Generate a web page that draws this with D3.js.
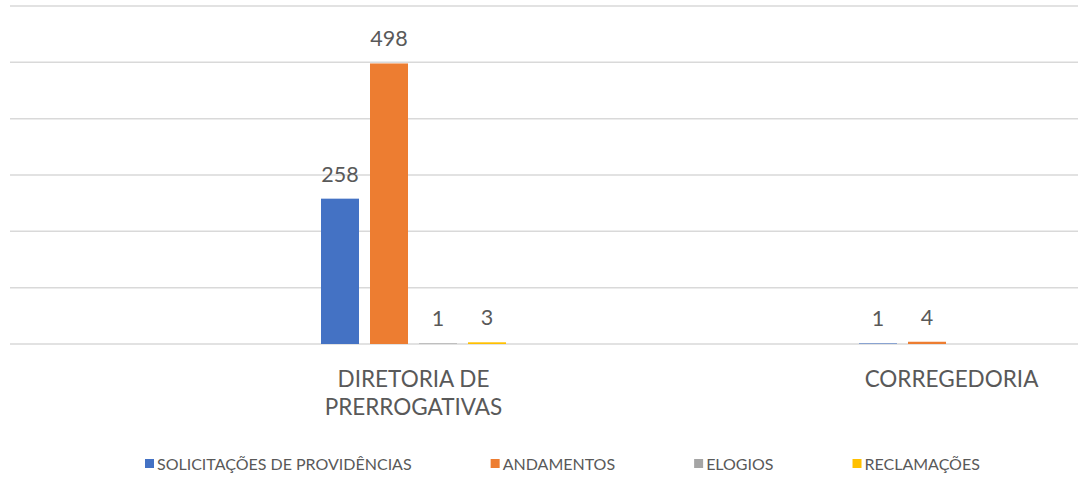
<!DOCTYPE html>
<html>
<head>
<meta charset="utf-8">
<script src="https://cdn.jsdelivr.net/npm/d3@7"></script>
<style>
  body { margin: 0; background: #fff; }
  svg { font-family: Lato, "Open Sans", sans-serif; }
  .grid line { stroke: #d9d9d9; stroke-width: 1.5; }
  .value { fill: #595959; font-size: 21.5px; text-anchor: middle; }
  .cat { fill: #595959; font-size: 22.5px; text-anchor: middle; }
  .legend text { fill: #595959; font-size: 16px; }
</style>
</head>
<body>
<div id="chart"></div>
<script>
// data
var categories = ["DIRETORIA DE PRERROGATIVAS", "CORREGEDORIA"]
var categoryLines = [["DIRETORIA DE", "PRERROGATIVAS"], ["CORREGEDORIA"]]
var series = ["SOLICITAÇÕES DE PROVIDÊNCIAS", "ANDAMENTOS", "ELOGIOS", "RECLAMAÇÕES"]
var solicitacoes = [258, 1]
var andamentos = [498, 4]
var elogios = [1, null]
var reclamacoes = [3, null]
var gridTicks = [0, 100, 200, 300, 400, 500, 600]

var colors = ["#4472C4", "#ED7D31", "#A5A5A5", "#FFC000"]
var values = [solicitacoes, andamentos, elogios, reclamacoes]

var width = 1078, height = 477

var svg = d3.select("#chart").append("svg")
    .attr("width", width)
    .attr("height", height)

var y = d3.scaleLinear().domain([0, 600]).range([344, 6])

// category bands (the plot is wider than the visible area on the right)
var x0 = d3.scaleBand().domain(categories).range([144.5, 1220.5])
var x1 = d3.scaleBand().domain(series)
    .range([176.5, 361.5])
    .paddingInner(0.2245)

// gridlines
svg.append("g").attr("class", "grid")
  .selectAll("line")
  .data(gridTicks)
  .enter().append("line")
    .attr("x1", 10)
    .attr("x2", width)
    .attr("y1", function(d) { return y(d); })
    .attr("y2", function(d) { return y(d); })

// bars
var rows = []
categories.forEach(function(c, ci) {
  series.forEach(function(s, si) {
    if (values[si][ci] != null) rows.push({cat: c, s: s, v: values[si][ci], color: colors[si]})
  })
})

svg.append("g").selectAll("rect")
  .data(rows)
  .enter().append("rect")
    .attr("x", function(d) { return x0(d.cat) + x1(d.s); })
    .attr("y", function(d) { return y(d.v); })
    .attr("width", x1.bandwidth())
    .attr("height", function(d) { return y(0) - y(d.v); })
    .attr("fill", function(d) { return d.color; })

// value labels
svg.append("g").selectAll("text")
  .data(rows)
  .enter().append("text")
    .attr("class", "value")
    .attr("x", function(d) { return x0(d.cat) + x1(d.s) + x1.bandwidth() / 2; })
    .attr("y", function(d) { return y(d.v) - 17; })
    .text(function(d) { return d.v; })

// category labels
categories.forEach(function(c, i) {
  var t = svg.append("text")
      .attr("class", "cat")
      .attr("x", x0(c) + x0.bandwidth() / 2)
      .attr("y", 387)
  categoryLines[i].forEach(function(line, j) {
    t.append("tspan")
      .attr("x", x0(c) + x0.bandwidth() / 2)
      .attr("dy", j == 0 ? 0 : 28)
      .text(line)
  })
})

// legend
var legend = svg.append("g").attr("class", "legend")
var lx = 145
series.forEach(function(s, i) {
  var item = legend.append("g").attr("transform", "translate(" + lx + ",0)")
  item.append("rect")
    .attr("x", 0).attr("y", 459)
    .attr("width", 9).attr("height", 9)
    .attr("fill", colors[i])
  var txt = item.append("text")
    .attr("x", 12).attr("y", 470)
    .text(s)
  lx += 12 + txt.node().getComputedTextLength() + 79
})
</script>
</body>
</html>
